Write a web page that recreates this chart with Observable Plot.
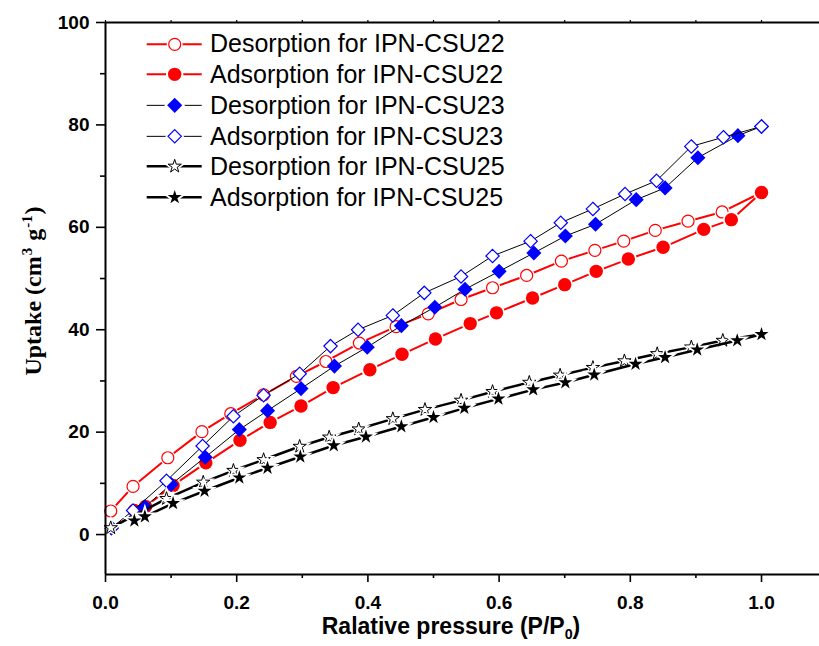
<!DOCTYPE html>
<html>
<head>
<meta charset="utf-8">
<script src="https://cdn.jsdelivr.net/npm/d3@7"></script>
<script src="https://cdn.jsdelivr.net/npm/@observablehq/plot@0.6"></script>
<style>
  html, body { margin: 0; padding: 0; background: #fff; }
  #wrap { position: relative; width: 819px; height: 646px; overflow: hidden; background: #fff; }
  #wrap > svg { position: absolute; left: 0; top: 0; }
  .legend { position: absolute; left: 140px; top: 28.6px; font-family: "Liberation Sans", Arial, sans-serif; font-size: 25px; color: #000; }
  .legend .row { display: flex; align-items: center; height: 30.7px; white-space: nowrap; }
  .legend svg { flex: none; }
  .xtitle { position: absolute; left: 451px; top: 613px; transform: translateX(-50%); font-family: "Liberation Sans", Arial, sans-serif; font-weight: bold; font-size: 23px; white-space: nowrap; }
  .xtitle sub { font-size: 0.62em; vertical-align: -0.35em; }
  .ytitle { position: absolute; left: 33px; top: 291px; transform: translate(-50%, -50%) rotate(-90deg); font-family: "Liberation Serif", "Times New Roman", serif; font-weight: bold; font-size: 24px; white-space: nowrap; }
  .ytitle sup { font-size: 0.62em; vertical-align: 0.6em; margin: 0 1px; }
</style>
</head>
<body>
<div id="wrap"></div>
<script>
// ---------------- data ----------------
const seriesNames = [
  "Desorption for IPN-CSU22",
  "Adsorption for IPN-CSU22",
  "Desorption for IPN-CSU23",
  "Adsorption for IPN-CSU23",
  "Desorption for IPN-CSU25",
  "Adsorption for IPN-CSU25"
];

const pDes22 = [0.008,0.042,0.095,0.147,0.191,0.241,0.291,0.336,0.387,0.443,0.492,0.542,0.590,0.642,0.695,0.746,0.790,0.838,0.888,0.940,1.0];
const uDes22 = [4.6,9.4,15.0,20.1,23.6,27.3,30.9,33.8,37.4,40.6,43.1,45.9,48.2,50.6,53.4,55.5,57.3,59.4,61.2,63.0,66.8];

const pAds22 = [0.044,0.061,0.103,0.153,0.205,0.251,0.298,0.347,0.403,0.452,0.503,0.556,0.596,0.651,0.700,0.748,0.797,0.850,0.912,0.954,1.0];
const uAds22 = [4.7,5.5,9.6,14.0,18.4,21.9,25.1,28.7,32.2,35.2,38.2,41.2,43.3,46.2,48.8,51.4,53.8,56.1,59.6,61.5,66.8];

const pDes23 = [0.009,0.060,0.100,0.152,0.204,0.247,0.298,0.349,0.399,0.451,0.502,0.548,0.600,0.653,0.701,0.747,0.809,0.853,0.903,0.964,1.0];
const uDes23 = [1.3,5.4,9.8,15.1,20.5,24.2,28.5,32.9,36.6,40.8,44.4,47.9,51.4,55.0,58.3,60.6,65.4,67.7,73.6,77.9,79.7];

const pAds23 = [0.009,0.042,0.093,0.148,0.195,0.241,0.296,0.343,0.385,0.438,0.486,0.542,0.590,0.648,0.694,0.743,0.792,0.840,0.893,0.942,1.0];
const uAds23 = [1.3,4.7,10.5,17.3,23.1,27.2,31.4,36.8,40.0,42.8,47.2,50.4,54.4,57.3,60.9,63.6,66.5,69.1,75.8,77.6,79.7];

const pDes25 = [0.008,0.093,0.149,0.195,0.241,0.296,0.341,0.386,0.438,0.487,0.542,0.590,0.646,0.693,0.743,0.791,0.841,0.893,0.941,1.0];
const uDes25 = [1.3,7.0,10.2,12.5,14.6,17.2,19.0,20.6,22.6,24.4,26.2,27.9,29.7,31.1,32.6,33.9,35.3,36.6,37.9,39.1];

const pAds25 = [0.044,0.060,0.103,0.151,0.204,0.247,0.297,0.348,0.397,0.451,0.500,0.547,0.599,0.652,0.701,0.745,0.808,0.853,0.902,0.963,1.0];
const uAds25 = [2.7,3.5,6.1,8.5,11.1,13.0,15.2,17.4,19.1,21.1,22.9,24.7,26.5,28.3,29.7,31.2,33.3,34.6,36.1,37.9,39.1];

const xMajorTicks = [0, 0.2, 0.4, 0.6, 0.8, 1.0];
const xMinorTicks = [0.1, 0.3, 0.5, 0.7, 0.9];
const yMajorTicks = [0, 20, 40, 60, 80, 100];
const yMinorTicks = [10, 30, 50, 70, 90];
const xDomain = [0, 1.0884];
const yDomain = [-7.8, 100];

// ---------------- styles ----------------
const RED = "#ff0000", BLUE = "#0000ff", BLACK = "#000000";
const styles = [
  { line: RED,   lw: 2,   symbol: "circle",   r: 6.0, fill: "white", stroke: RED,   sw: 1.2, halo: true },
  { line: RED,   lw: 2,   symbol: "circle",   r: 6.7, fill: RED,     stroke: RED,   sw: 0,   halo: true },
  { line: BLACK, lw: 1,   symbol: "diamond2", r: 6.8, fill: BLUE,    stroke: BLUE,  sw: 0,   halo: false },
  { line: BLACK, lw: 1,   symbol: "diamond2", r: 6.0, fill: "white", stroke: BLUE,  sw: 1.2, halo: false },
  { line: BLACK, lw: 2.5, symbol: "star",     r: 4.2, fill: "white", stroke: BLACK, sw: 1,   halo: true },
  { line: BLACK, lw: 2.5, symbol: "star",     r: 4.4, fill: BLACK,   stroke: BLACK, sw: 0,   halo: true }
];
const xs = [pDes22, pAds22, pDes23, pAds23, pDes25, pAds25];
const ys = [uDes22, uAds22, uDes23, uAds23, uDes25, uAds25];

const marks = [];
seriesNames.forEach((name, k) => {
  const st = styles[k];
  const rows = xs[k].map((x, i) => ({ x, y: ys[k][i] }));
  marks.push(Plot.line(rows, { x: "x", y: "y", stroke: st.line, strokeWidth: st.lw }));
  if (st.halo) {
    marks.push(Plot.dot(rows, { x: "x", y: "y", symbol: st.symbol, r: st.r, fill: "white", stroke: "white", strokeWidth: 3.5 }));
  }
  marks.push(Plot.dot(rows, { x: "x", y: "y", symbol: st.symbol, r: st.r, fill: st.fill, stroke: st.sw ? st.stroke : "none", strokeWidth: st.sw }));
});

const chart = Plot.plot({
  width: 819,
  height: 646,
  marginLeft: 105,
  marginRight: 0,
  marginTop: 22,
  marginBottom: 72,
  style: { fontFamily: "'Liberation Sans', Arial, sans-serif", fontSize: "19px", fontWeight: "bold", background: "white", color: "black" },
  x: { domain: xDomain, label: null },
  y: { domain: yDomain, label: null },
  marks: [
    ...marks,
    Plot.ruleX([xDomain[0]], { stroke: "black", strokeWidth: 2 }),
    Plot.ruleY([yDomain[0]], { stroke: "black", strokeWidth: 2 }),
    Plot.ruleY([yDomain[1]], { stroke: "black", strokeWidth: 2 }),
    Plot.axisX({ ticks: xMajorTicks, tickFormat: d => d.toFixed(1), tickSize: 8, tickPadding: 13, strokeWidth: 1.6, label: null }),
    Plot.axisX({ ticks: xMinorTicks, tickFormat: () => "", tickSize: 4, strokeWidth: 1.6, label: null }),
    Plot.axisX({ anchor: "top", ticks: [...xMajorTicks, ...xMinorTicks], tickFormat: () => "", tickSize: 3, strokeWidth: 1.2, label: null }),
    Plot.axisY({ ticks: yMajorTicks, tickFormat: d => String(d), tickSize: 9, tickPadding: 7, strokeWidth: 1.6, label: null }),
    Plot.axisY({ ticks: yMinorTicks, tickFormat: () => "", tickSize: 5, strokeWidth: 1.6, label: null })
  ]
});

const wrap = document.getElementById("wrap");
wrap.appendChild(chart);

// ---------------- legend ----------------
const symMap = { circle: d3.symbolCircle, diamond2: d3.symbolDiamond2, star: d3.symbolStar };
const legend = d3.select(wrap).append("div").attr("class", "legend");
seriesNames.forEach((name, k) => {
  const st = styles[k];
  const row = legend.append("div").attr("class", "row");
  const svg = row.append("svg").attr("width", 70).attr("height", 30.7);
  svg.append("line").attr("x1", 6.7).attr("x2", 61.7).attr("y1", 15.35).attr("y2", 15.35)
    .attr("stroke", st.line).attr("stroke-width", st.lw);
  const d = d3.symbol(symMap[st.symbol], Math.PI * st.r * st.r)();
  svg.append("path").attr("d", d).attr("transform", "translate(34.7,15.35)")
    .attr("fill", "white").attr("stroke", "white").attr("stroke-width", 4);
  svg.append("path").attr("d", d).attr("transform", "translate(34.7,15.35)")
    .attr("fill", st.fill).attr("stroke", st.sw ? st.stroke : "none").attr("stroke-width", st.sw);
  row.append("span").text(name);
});

// ---------------- axis titles ----------------
d3.select(wrap).append("div").attr("class", "xtitle").html("Ralative pressure (P/P<sub>0</sub>)");
d3.select(wrap).append("div").attr("class", "ytitle").html("Uptake (cm<sup>3</sup> g<sup>-1</sup>)");
</script>
</body>
</html>
